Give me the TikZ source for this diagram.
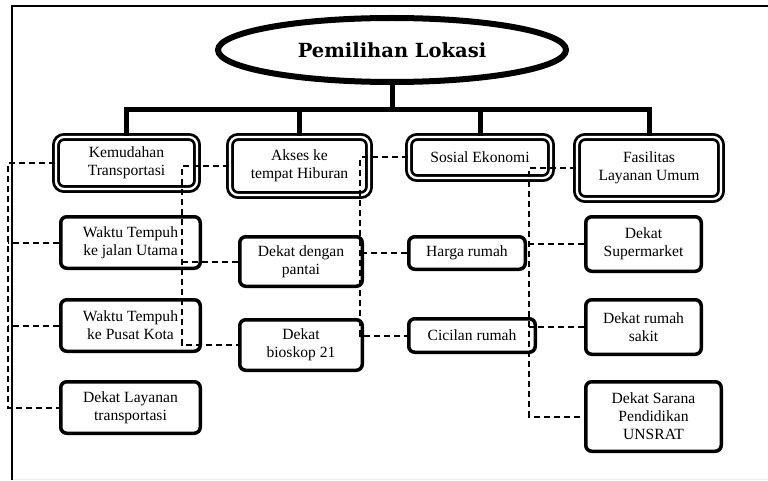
\documentclass[tikz,border=0pt]{standalone}
\usepackage{fontspec}
\setmainfont{Liberation Serif}
\newfontfamily\judulfont{DejaVu Serif}
\usetikzlibrary{shapes.geometric}
\begin{document}
\begin{tikzpicture}[
  x=1pt, y=1pt,
  line cap=butt, line join=miter,
  judul/.style={ellipse, draw, line width=6pt, minimum width=348pt, minimum height=64pt,
    inner sep=0pt, font=\judulfont\bfseries\fontsize{19.5pt}{19.5pt}\selectfont},
  kriteria/.style={rectangle, rounded corners=8pt, draw, double, double distance=2.3pt,
    line width=2.8pt, fill=white, align=center, inner sep=0pt},
  subkrit/.style={rectangle, rounded corners=6pt, draw, line width=3.5pt, fill=white,
    align=center, inner sep=0pt},
  cabang/.style={line width=5pt},
  putus/.style={line width=2pt, dash pattern=on 6pt off 4pt},
  every node/.style={font=\fontsize{15.6pt}{18pt}\selectfont}
]
  \useasboundingbox (0,0) rectangle (768,480);
  % ---- bingkai ----
  \draw[gray!15, line width=1pt] (12,1) -- (768,1);
  \draw[line width=1.5pt] (768,474) -- (12,474) -- (12,0);
  % ---- judul ----
  \node[judul] (lokasi) at (392,430) {Pemilihan Lokasi};
  % ---- kriteria (bingkai ganda) ----
  \node[kriteria, minimum width=141pt, minimum height=52pt] (kemudahan) at (126.5,317) {Kemudahan\\Transportasi};
  \node[kriteria, minimum width=139pt, minimum height=58pt] (akses) at (299.5,314) {Akses ke\\tempat Hiburan};
  \node[kriteria, minimum width=142pt, minimum height=41pt] (sosial) at (480,322.5) {Sosial Ekonomi};
  \node[kriteria, minimum width=144pt, minimum height=62pt] (fasilitas) at (649,312) {Fasilitas\\Layanan Umum};
  % ---- sub kriteria ----
  \node[subkrit, minimum width=139.5pt, minimum height=51.5pt] (jalan) at (130.5,237.5) {Waktu Tempuh\\ke jalan Utama};
  \node[subkrit, minimum width=139.5pt, minimum height=51.5pt] (pusat) at (130.5,154.5) {Waktu Tempuh\\ke Pusat Kota};
  \node[subkrit, minimum width=139.5pt, minimum height=51.5pt] (layanan) at (130.5,72.5) {Dekat Layanan\\transportasi};
  \node[subkrit, minimum width=122.5pt, minimum height=49.5pt] (pantai) at (301,218.5) {Dekat dengan\\pantai};
  \node[subkrit, minimum width=122.5pt, minimum height=50.5pt] (bioskop) at (301,135) {Dekat\\bioskop 21};
  \node[subkrit, minimum width=116.5pt, minimum height=32.5pt] (harga) at (467,227) {Harga rumah};
  \node[subkrit, minimum width=126.5pt, minimum height=33.5pt] (cicilan) at (472,144.5) {Cicilan rumah};
  \node[subkrit, minimum width=115.5pt, minimum height=54.5pt] (supermarket) at (643.5,236) {Dekat\\Supermarket};
  \node[subkrit, minimum width=115.5pt, minimum height=54.5pt] (sakit) at (643.5,153) {Dekat rumah\\sakit};
  \node[subkrit, minimum width=135.5pt, minimum height=69.5pt] (sarana) at (653.5,63.5) {Dekat Sarana\\Pendidikan\\UNSRAT};
  % ---- cabang utama ----
  \coordinate (bus) at (392,370);
  \draw[cabang] (lokasi.south) -- (lokasi.south |- bus);
  \draw[cabang] (kemudahan.north) -- (kemudahan.north |- bus) -- (fasilitas.north |- bus) -- (fasilitas.north);
  \draw[cabang] (akses.north) -- (akses.north |- bus);
  \draw[cabang] (sosial.north) -- (sosial.north |- bus);
  % ---- garis putus-putus ----
  \coordinate (busA) at (7.5,0);
  \coordinate (busB) at (182,0);
  \coordinate (busC) at (360,0);
  \coordinate (busD) at (529,0);
  \draw[putus] (kemudahan.west) -| (busA |- layanan.west) -- (layanan.west);
  \draw[putus] (jalan.west) -- (busA |- jalan.west);
  \draw[putus] (pusat.west) -- (busA |- pusat.west);
  \draw[putus] (akses.west) -| (busB |- bioskop.west) -- (bioskop.west);
  \draw[putus] (pantai.west) -- (busB |- pantai.west);
  \draw[putus] (sosial.west) -| (busC |- cicilan.west) -- (cicilan.west);
  \draw[putus] (harga.west) -- (busC |- harga.west);
  \draw[putus] (fasilitas.west) -| (busD |- sarana.west) -- (sarana.west);
  \draw[putus] (supermarket.west) -- (busD |- supermarket.west);
  \draw[putus] (sakit.west) -- (busD |- sakit.west);
\end{tikzpicture}
\end{document}
